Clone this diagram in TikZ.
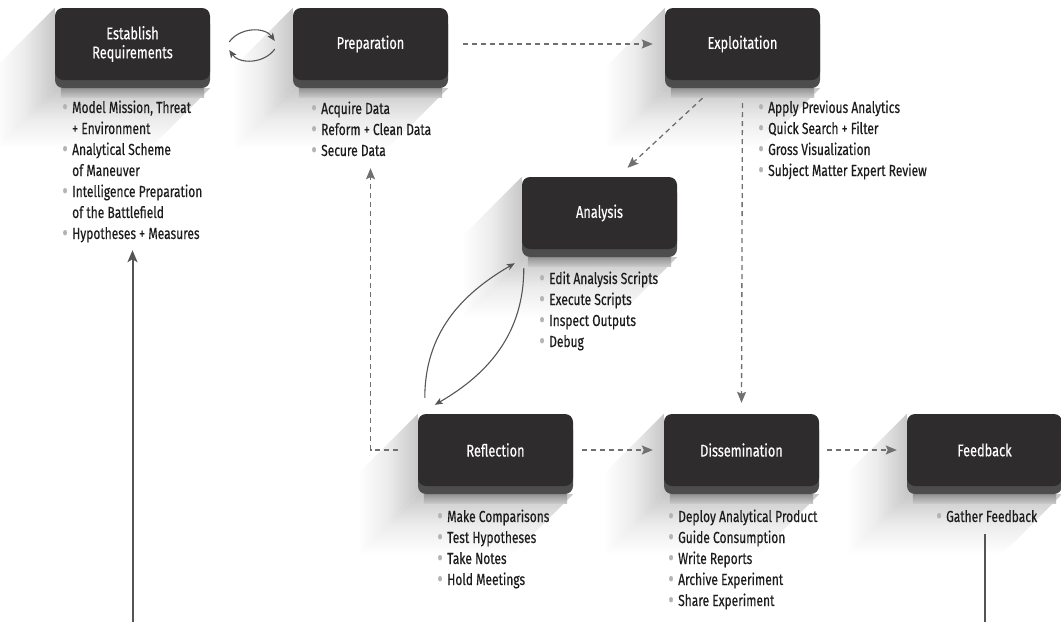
\documentclass[tikz,border=0pt]{standalone}
\usepackage{fontspec}
\setmainfont{Fira Sans}[FakeStretch=0.75, FakeBold=0.4]
\usetikzlibrary{arrows.meta,calc,backgrounds,shadows}

\definecolor{facecol}{HTML}{2E2C2D}
\definecolor{bandcol}{HTML}{4D4D4D}
\definecolor{linecol}{HTML}{555555}
\definecolor{dashcol}{HTML}{707070}
\definecolor{bulcol}{HTML}{B4B4B4}
\definecolor{shadecol}{HTML}{C8C8C8}
\definecolor{txtcol}{HTML}{1C1C1C}

% list helpers: bullet and hanging indent
\newcommand\bu{\makebox[10pt][l]{\textcolor{bulcol}{\raisebox{-1.6pt}{\scalebox{1.45}{•}}}}}
\newcommand\ind{\hspace*{10pt}}

\tikzset{
  stage/.style={rectangle, rounded corners=8pt, fill=facecol,
    minimum width=155pt, minimum height=72pt, inner sep=2pt,
    text=white, align=center, font=\fontsize{17}{19}\selectfont,
    general shadow={shadow yshift=-8pt, fill=bandcol}},
  itemlist/.style={anchor=base west, inner sep=0pt, align=left,
    text=txtcol, font=\fontsize{16}{21}\selectfont},
  dasharrow/.style={dashcol, line width=1.3pt, dash pattern=on 5pt off 4pt,
    -{Stealth[length=11pt,width=9pt,inset=2pt]}},
  looparrow/.style={linecol, line width=1.1pt,
    -{Stealth[length=8pt,width=6.5pt,inset=2pt]}},
  returnline/.style={linecol, line width=2pt}
}

% long diagonal shadow of a stage box (drawn behind it)
\newcommand\longshadow[1]{%
  \path let \p1=(#1.north west), \p2=(#1.south east) in
    [left color=white, right color=shadecol, middle color=shadecol!35!white]
    (\x1,\y1) -- (\x1,\y2-8pt) -- (\x1-60pt,\y2-68pt) -- (\x1-60pt,\y1-60pt) -- cycle;
  \path let \p1=(#1.north west), \p2=(#1.south east) in
    [bottom color=white, top color=shadecol, middle color=shadecol!35!white]
    (\x1,\y2-8pt) -- (\x2,\y2-8pt) -- (\x2-60pt,\y2-68pt) -- (\x1-60pt,\y2-68pt) -- cycle;
  \path let \p1=(#1.north west), \p2=(#1.south east) in
    [fill=shadecol] (\x1,\y2-8pt) rectangle (\x1+8pt,\y2);
  \path let \p1=(#1.north west), \p2=(#1.south east) in
    [top color=black!42, bottom color=shadecol]
    (\x1+6pt,\y2-8pt) rectangle (\x2-6pt,\y2-17pt);
}

\begin{document}
\begin{tikzpicture}[x=1pt, y=1pt]
\useasboundingbox (0,0) rectangle (1061,-622);

% stage boxes
\node[stage] (est)  at (132.5,-44) {Establish\\Requirements};
\node[stage] (prep) at (370.5,-44) {Preparation};
\node[stage] (expl) at (742.5,-44) {Exploitation};
\node[stage] (ana)  at (599.5,-213) {Analysis};
\node[stage] (refl) at (495.5,-450) {Reflection};
\node[stage] (diss) at (741.5,-450) {Dissemination};
\node[stage] (feed) at (984.5,-450) {Feedback};

\begin{scope}[on background layer]
  \longshadow{est}
  \longshadow{prep}
  \longshadow{expl}
  \longshadow{ana}
  \longshadow{refl}
  \longshadow{diss}
  \longshadow{feed}
\end{scope}

% task lists (anchored at the baseline of their last line)
\node[itemlist] (lest) at (62,-239) {\bu Model Mission, Threat\\\ind + Environment\\\bu Analytical Scheme\\\ind of Maneuver\\\bu Intelligence Preparation\\\ind of the Battlefield\\\bu Hypotheses + Measures};
\node[itemlist] (lprep) at (311,-156) {\bu Acquire Data\\\bu Reform + Clean Data\\\bu Secure Data};
\node[itemlist] (lexpl) at (758,-176) {\bu Apply Previous Analytics\\\bu Quick Search + Filter\\\bu Gross Visualization\\\bu Subject Matter Expert Review};
\node[itemlist] (lana) at (539,-347) {\bu Edit Analysis Scripts\\\bu Execute Scripts\\\bu Inspect Outputs\\\bu Debug};
\node[itemlist] (lrefl) at (437,-585) {\bu Make Comparisons\\\bu Test Hypotheses\\\bu Take Notes\\\bu Hold Meetings};
\node[itemlist] (ldiss) at (668,-606) {\bu Deploy Analytical Product\\\bu Guide Consumption\\\bu Write Reports\\\bu Archive Experiment\\\bu Share Experiment};
\node[itemlist] (lfeed) at (936,-522) {\bu Gather Feedback};

% iteration between requirements and preparation
\draw[looparrow] ($(est.east)+(19,2)$) to[out=55,in=125] ($(prep.west)+(-18,3)$);
\draw[looparrow] ($(prep.west)+(-18,-5)$) to[out=-125,in=-55] ($(est.east)+(19,-6)$);

% main flow
\draw[dasharrow, shorten <=15pt, shorten >=12pt] (prep.east) -- (expl.west);
\draw[dasharrow] ($(expl.south)+(-40,-18)$) -- ($(ana.north)+(28,9)$);
\draw[dasharrow, shorten <=23pt, shorten >=11pt] (expl.south) -- (diss.north);
\draw[dasharrow, shorten <=20pt, shorten >=88pt] (refl.west) -| (prep.south);
\draw[dasharrow, shorten <=9pt, shorten >=11pt] (refl.east) -- (diss.west);
\draw[dasharrow, shorten <=8pt, shorten >=10pt] (diss.east) -- (feed.west);

% analysis / reflection loop
\draw[looparrow] ($(refl.north west)+(7,16)$) to[out=90,in=210] ($(ana.south west)+(-7,-14)$);
\draw[looparrow] ($(ana.south west)+(2,-19)$) to[out=270,in=30] ($(refl.north west)+(17,9)$);

% feedback returns to requirements
\coordinate (fbend) at (feed.south |- 0,-622);
\coordinate (esbend) at (est.south |- 0,-622);
\draw[returnline] ($(feed.south)+(0,-48)$) -- (fbend);
\draw[returnline, -{Stealth[length=12pt,width=10pt,inset=3pt]}, shorten >=170pt] (esbend) -- (est.south);
\end{tikzpicture}
\end{document}
